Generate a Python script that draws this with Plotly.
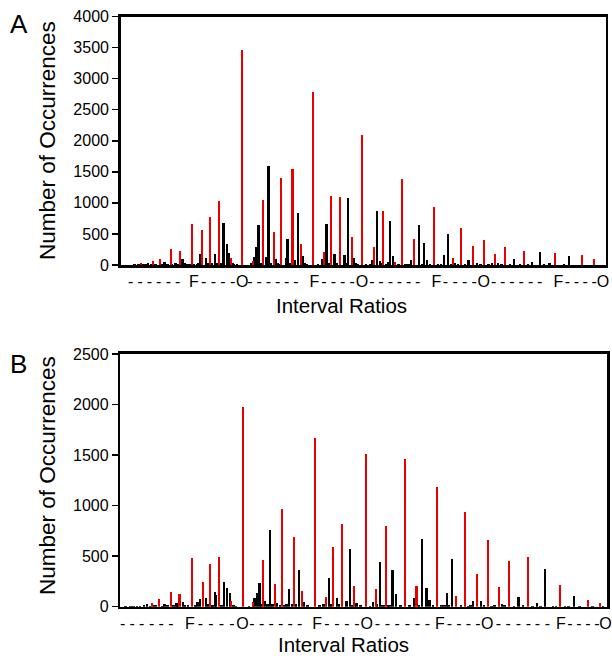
import plotly.graph_objects as go

# ---------------- data (x in semitones above unison, y = number of occurrences) -------------
a_red_x = [2.0, 3.16, 3.88, 4.94, 5.86, 7.05, 8.07, 8.83, 9.69, 10.88, 12.0, 13.06, 14.11, 15.14,
           15.86, 17.0, 17.81, 19.0, 20.07, 20.8, 21.68, 22.86, 23.91, 25.06, 25.98, 27.14, 27.84,
           29.02, 30.97, 32.85, 33.67, 34.84, 36.0, 37.01, 38.03, 39.87, 42.98, 45.65, 46.87]
a_red_y = [25, 70, 92, 253, 221, 652, 565, 765, 1023, 120, 3455, 65, 1040, 527,
           1398, 1544, 332, 2790, 205, 1103, 1087, 445, 2097, 283, 863, 43, 1378,
           426, 930, 116, 600, 301, 398, 172, 285, 226, 186, 156, 92]

a_black_x = [1.34, 1.74, 2.23, 2.7, 3.49, 4.35, 4.61, 5.4, 6.13, 6.36, 6.53, 7.52, 7.68, 7.84,
             8.44, 8.64, 9.33, 9.53, 10.19, 10.51, 10.71, 11.04, 11.21, 12.89, 13.22, 13.39,
             13.65, 14.35, 14.47, 14.64, 15.34, 15.51, 16.33, 16.52, 17.25, 17.54, 17.97, 18.17,
             19.92, 20.38, 21.16, 22.14, 22.52, 23.05, 23.45, 24.67, 24.87, 25.36, 25.66, 26.45,
             26.65, 26.96, 28.5, 28.73, 29.52, 30.01, 30.31, 31.7, 31.99, 32.39, 33.11, 34.44,
             35.26, 36.74, 37.34, 38.95, 40.7, 41.49, 42.44, 43.87, 44.36]
a_black_y = [10, 12, 20, 40, 20, 55, 20, 30, 103, 30, 20, 20, 30, 183,
             113, 30, 172, 40, 673, 345, 200, 30, 15, 30, 129, 290,
             640, 129, 40, 1595, 92, 30, 120, 415, 76, 834, 145, 30,
             92, 652, 170, 168, 1075, 113, 20, 20, 76, 866, 60, 49,
             708, 138, 20, 85, 638, 361, 87, 20, 156, 506, 25, 76,
             40, 30, 30, 92, 43, 202, 25, 10, 148]

a_minor_x = [0.5, 1.0, 1.5, 2.45, 3.0, 3.3, 4.05, 5.1, 5.6, 6.8, 7.25, 9.0, 9.9, 11.5, 12.5,
             13.9, 14.85, 15.7, 16.8, 18.4, 19.5, 20.6, 21.4, 22.3, 23.3, 24.3, 25.9, 26.25,
             27.5, 28.2, 29.8, 30.6, 31.4, 32.7, 33.4, 34.1, 35.6, 36.4, 37.7, 38.5, 39.5,
             40.3, 41.9, 43.5, 44.9, 46.3, 47.5]
a_minor_y = [5, 8, 6, 15, 10, 15, 12, 15, 20, 15, 20, 25, 30, 10, 8,
             25, 40, 20, 25, 15, 15, 30, 30, 25, 25, 10, 25, 20,
             20, 15, 20, 20, 10, 20, 15, 10, 15, 10, 15, 10, 15,
             10, 10, 8, 8, 8, 5]

b_red_x = [3.06, 3.8, 4.92, 5.78, 7.0, 8.05, 8.77, 9.65, 10.79, 12.0, 13.0, 13.98, 15.13, 15.79,
           16.99, 17.74, 19.02, 20.1, 20.77, 21.66, 22.86, 24.0, 24.97, 25.99, 27.87, 28.97,
           30.98, 32.84, 33.69, 34.86, 35.97, 37.03, 38.0, 39.86, 42.99, 45.73, 46.91]
b_red_y = [33, 73, 142, 126, 479, 247, 419, 490, 55, 1973, 43, 462, 226, 967,
           690, 155, 1666, 93, 591, 818, 200, 1507, 172, 798, 1458, 205,
           1188, 109, 940, 321, 660, 190, 449, 489, 216, 62, 35]

b_black_x = [1.26, 1.92, 2.6, 3.29, 4.33, 5.47, 6.13, 6.32, 7.56, 7.79, 8.36, 8.96, 9.23, 9.37,
             9.91, 10.14, 10.41, 10.7, 11.05, 12.95, 13.14, 13.37, 13.61, 14.15, 14.62, 14.9,
             15.32, 16.27, 16.47, 17.18, 17.46, 17.94, 19.89, 20.39, 21.19, 22.14, 22.47, 23.1,
             24.74, 25.38, 25.6, 26.35, 26.64, 26.94, 28.71, 29.49, 29.95, 30.26, 31.73, 31.96,
             32.42, 34.24, 34.48, 35.28, 36.62, 37.36, 38.97, 40.74, 41.53, 42.3, 43.83, 44.4]
b_black_y = [10, 10, 27, 15, 27, 33, 50, 20, 43, 76, 83, 20, 142, 120,
             20, 244, 182, 133, 20, 20, 83, 139, 231, 60, 759, 30,
             40, 30, 173, 30, 363, 45, 25, 287, 91, 60, 568, 35,
             50, 445, 20, 20, 363, 123, 83, 670, 182, 66, 20, 132,
             469, 20, 60, 58, 20, 25, 93, 33, 370, 10, 10, 104]

b_minor_x = [0.5, 1.0, 1.6, 2.3, 2.9, 3.5, 4.1, 4.6, 5.2, 5.6, 6.6, 7.3, 8.6, 9.0, 11.3, 12.6,
             13.8, 14.4, 15.6, 16.0, 16.8, 18.3, 19.5, 20.6, 21.4, 22.7, 23.5, 24.4, 25.1, 25.8,
             26.2, 27.4, 28.3, 29.2, 30.6, 31.4, 32.1, 33.3, 34.0, 35.6, 36.3, 37.6, 38.5,
             39.4, 40.3, 41.1, 42.6, 43.5, 44.9, 46.2, 47.2]
b_minor_y = [5, 8, 10, 12, 10, 15, 10, 12, 15, 20, 15, 20, 25, 20, 10, 10,
             25, 30, 20, 20, 25, 15, 15, 25, 25, 20, 20, 10, 25, 20,
             20, 20, 15, 20, 20, 15, 20, 15, 10, 15, 10, 15, 10,
             15, 10, 10, 10, 8, 8, 8, 5]

tick_labels = (["-"] * 6 + ["F"] + ["-"] * 4 + ["O"]) * 4
a_tick_pos = [0.98, 1.91, 2.83, 3.76, 4.72, 5.64, 7.25, 8.21, 9.17, 10.12, 11.08, 12.03,
              12.79, 13.7, 14.61, 15.52, 16.43, 17.34, 19.16, 20.1, 21.04, 21.97, 22.91, 23.87,
              24.87, 25.76, 26.68, 27.57, 28.5, 29.39, 31.25, 32.14, 33.09, 34.03, 34.98, 35.92,
              36.91, 37.8, 38.72, 39.64, 40.57, 41.46, 43.32, 44.21, 45.09, 45.97, 46.85, 47.73]
b_tick_pos = [0.21, 1.15, 2.09, 3.06, 4.0, 4.95, 6.81, 7.84, 8.86, 9.89, 10.92, 11.95,
              12.86, 13.83, 14.76, 15.69, 16.61, 17.53, 19.24, 20.21, 21.18, 22.15, 23.13, 24.1,
              25.14, 26.12, 27.09, 28.07, 29.05, 30.03, 31.27, 32.2, 33.13, 34.06, 34.97, 35.9,
              36.98, 37.95, 38.93, 39.91, 40.79, 41.77, 43.11, 43.99, 44.87, 45.75, 46.63, 47.45]

a_yticks = [0, 500, 1000, 1500, 2000, 2500, 3000, 3500, 4000]
b_yticks = [0, 500, 1000, 1500, 2000, 2500]

# ---------------- figure -------------
W, H = 612, 656
RED = "rgb(232,0,0)"
BLACK = "black"
FONT = "Arial, Liberation Sans, Helvetica, sans-serif"
RED_W = 0.2
BLACK_W = 0.24

fig = go.Figure()


def bars(x, y, color, width, xa, ya):
    fig.add_trace(go.Bar(x=x, y=y, width=width, xaxis=xa, yaxis=ya,
                         marker=dict(color=color, line=dict(width=0)),
                         showlegend=False, hoverinfo="skip"))


bars(a_minor_x, a_minor_y, BLACK, BLACK_W, "x", "y")
bars(a_black_x, a_black_y, BLACK, BLACK_W, "x", "y")
bars(a_red_x, a_red_y, RED, RED_W, "x", "y")
bars(b_minor_x, b_minor_y, BLACK, BLACK_W, "x2", "y2")
bars(b_black_x, b_black_y, BLACK, BLACK_W, "x2", "y2")
bars(b_red_x, b_red_y, RED, RED_W, "x2", "y2")


def px_x(v):
    return v / W


def px_y(v):
    return 1 - v / H


common_x = dict(showline=True, linewidth=2.6, linecolor="black", mirror=True, ticks="",
                showgrid=False, zeroline=False, tickangle=0, automargin=False,
                ticklabeloverflow="allow", ticklabelstandoff=0,
                tickfont=dict(family=FONT, size=16, color="black"))
common_y = dict(showline=True, linewidth=2.6, linecolor="black", mirror=True, ticks="outside",
                ticklen=6, tickwidth=1.5, tickcolor="black", showgrid=False, zeroline=False,
                automargin=False,
                tickfont=dict(family=FONT, size=16, color="black"))

fig.update_layout(
    width=W, height=H, autosize=False,
    margin=dict(l=0, r=0, t=0, b=0, autoexpand=False),
    paper_bgcolor="white", plot_bgcolor="white",
    barmode="overlay", bargap=0,
    xaxis=dict(domain=[px_x(120.75), px_x(605.7)], range=[0, 48], anchor="y",
               tickvals=a_tick_pos, ticktext=tick_labels, **common_x),
    yaxis=dict(domain=[px_y(265), px_y(16.5)], range=[0, 4000], anchor="x",
               tickvals=a_yticks, **common_y),
    xaxis2=dict(domain=[px_x(120.4), px_x(607)], range=[0, 47.61], anchor="y2",
                tickvals=b_tick_pos, ticktext=tick_labels, **common_x),
    yaxis2=dict(domain=[px_y(606.7), px_y(354)], range=[0, 2500], anchor="x2",
                tickvals=b_yticks, **common_y),
)


def note(text, x, y, size, angle=0, xanchor="center"):
    fig.add_annotation(text=text, x=px_x(x), y=px_y(y), xref="paper", yref="paper",
                       showarrow=False, textangle=angle, xanchor=xanchor, yanchor="middle",
                       font=dict(family=FONT, size=size, color="black"))


note("A", 8, 24, 26, xanchor="left")
note("B", 8, 364, 26, xanchor="left")
note("Number of Occurrences", 47, 141, 22.5, angle=-90)
note("Number of Occurrences", 47, 476, 22.5, angle=-90)
note("Interval Ratios", 341, 305, 20.5)
note("Interval Ratios", 343, 644.5, 20.5)

fig.write_html("out.html", config={"displayModeBar": False, "staticPlot": True},
               post_script="document.body.style.margin='0';document.body.style.padding='0';")
